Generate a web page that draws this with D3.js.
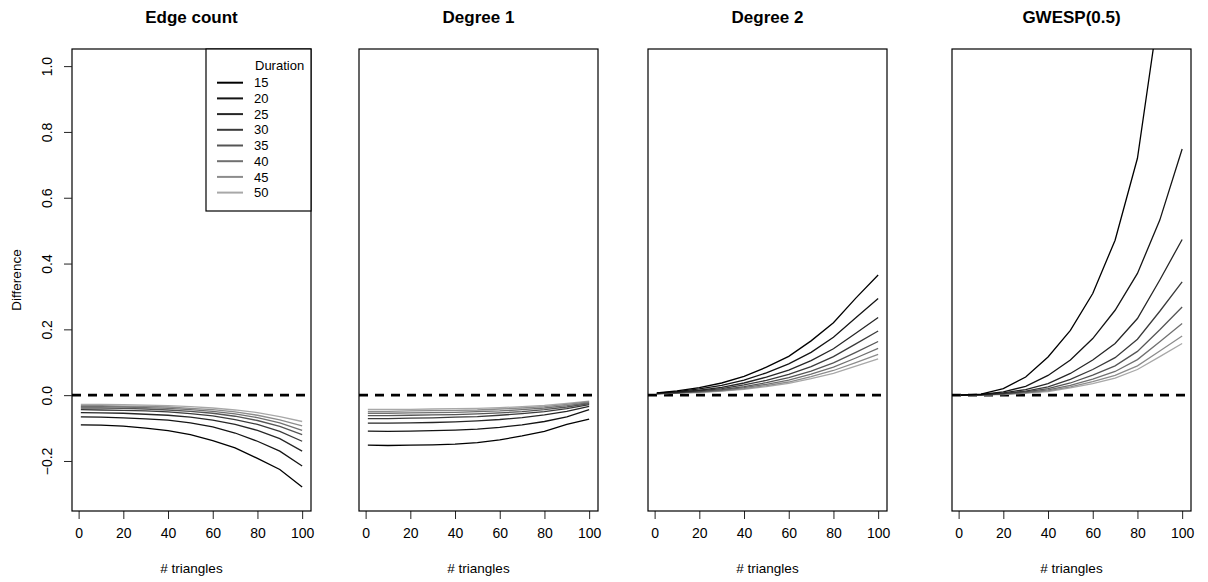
<!DOCTYPE html>
<html>
<head>
<meta charset="utf-8">
<script src="https://cdn.jsdelivr.net/npm/d3@7"></script>
<style>
body{margin:0;background:#fff;}
text{font-family:"Liberation Sans",Arial,Helvetica,sans-serif;fill:#000;}
</style>
</head>
<body>
<script>
// data
var triangles = [1,10,20,30,40,50,60,70,80,90,100];
var durations = [15,20,25,30,35,40,45,50];
var titles = ["Edge count","Degree 1","Degree 2","GWESP(0.5)"];
var xTicks = [0,20,40,60,80,100];
var yTicks = [-0.2,0,0.2,0.4,0.6,0.8,1.0];

var edgeCount = [
	[-0.090,-0.091,-0.094,-0.100,-0.108,-0.120,-0.138,-0.160,-0.192,-0.226,-0.279],
	[-0.066,-0.067,-0.069,-0.072,-0.076,-0.084,-0.096,-0.115,-0.140,-0.170,-0.215],
	[-0.053,-0.054,-0.055,-0.058,-0.061,-0.067,-0.076,-0.089,-0.107,-0.132,-0.170],
	[-0.044,-0.045,-0.046,-0.048,-0.051,-0.056,-0.063,-0.074,-0.089,-0.110,-0.140],
	[-0.039,-0.039,-0.040,-0.042,-0.045,-0.049,-0.055,-0.064,-0.077,-0.095,-0.120],
	[-0.035,-0.035,-0.036,-0.038,-0.040,-0.044,-0.049,-0.057,-0.068,-0.084,-0.107],
	[-0.032,-0.032,-0.033,-0.034,-0.036,-0.040,-0.044,-0.051,-0.061,-0.075,-0.093],
	[-0.028,-0.028,-0.029,-0.030,-0.032,-0.035,-0.039,-0.045,-0.053,-0.065,-0.080]
];
var degree1 = [
	[-0.152,-0.153,-0.152,-0.151,-0.149,-0.144,-0.136,-0.124,-0.110,-0.089,-0.073],
	[-0.109,-0.110,-0.109,-0.108,-0.106,-0.103,-0.098,-0.090,-0.080,-0.066,-0.044],
	[-0.085,-0.085,-0.084,-0.083,-0.081,-0.078,-0.074,-0.068,-0.060,-0.049,-0.034],
	[-0.071,-0.071,-0.070,-0.069,-0.067,-0.065,-0.061,-0.056,-0.050,-0.041,-0.029],
	[-0.062,-0.062,-0.061,-0.060,-0.059,-0.057,-0.054,-0.050,-0.044,-0.036,-0.026],
	[-0.055,-0.055,-0.054,-0.053,-0.052,-0.050,-0.048,-0.044,-0.039,-0.032,-0.023],
	[-0.049,-0.049,-0.048,-0.047,-0.046,-0.045,-0.042,-0.039,-0.035,-0.028,-0.020],
	[-0.043,-0.043,-0.043,-0.042,-0.041,-0.040,-0.038,-0.035,-0.031,-0.025,-0.018]
];
var degree2 = [
	[0.007,0.013,0.023,0.037,0.057,0.085,0.118,0.165,0.220,0.295,0.365],
	[0.006,0.011,0.019,0.030,0.046,0.068,0.095,0.130,0.176,0.235,0.294],
	[0.006,0.009,0.015,0.024,0.037,0.055,0.076,0.105,0.141,0.188,0.236],
	[0.005,0.008,0.013,0.020,0.031,0.045,0.063,0.087,0.117,0.156,0.195],
	[0.005,0.007,0.011,0.017,0.026,0.038,0.053,0.073,0.098,0.130,0.163],
	[0.005,0.007,0.010,0.015,0.023,0.033,0.046,0.064,0.085,0.113,0.142],
	[0.004,0.006,0.009,0.013,0.020,0.029,0.040,0.056,0.075,0.099,0.124],
	[0.004,0.006,0.008,0.012,0.018,0.026,0.036,0.050,0.066,0.088,0.110]
];
var gwesp = [
	[0.000,0.003,0.020,0.055,0.116,0.197,0.309,0.471,0.720,1.190,1.900],
	[0.000,0.002,0.010,0.027,0.060,0.107,0.172,0.258,0.370,0.532,0.748],
	[0.000,0.002,0.007,0.017,0.035,0.066,0.107,0.157,0.233,0.350,0.473],
	[0.000,0.001,0.005,0.012,0.025,0.048,0.078,0.114,0.170,0.255,0.344],
	[0.000,0.001,0.004,0.010,0.020,0.037,0.061,0.089,0.133,0.199,0.268],
	[0.000,0.001,0.003,0.008,0.016,0.030,0.049,0.072,0.108,0.162,0.218],
	[0.000,0.001,0.003,0.007,0.013,0.025,0.041,0.060,0.089,0.134,0.180],
	[0.000,0.001,0.002,0.006,0.011,0.022,0.035,0.052,0.078,0.117,0.157]
];
var panels = [edgeCount, degree1, degree2, gwesp];

var shades = ["#000000","#141414","#262626","#3a3a3a","#555555","#707070","#8c8c8c","#a8a8a8"];

var W = 1208, H = 582,
	plotTop = 49, plotBottom = 511,
	lefts = [72, 359, 648, 952], pw = 239;

var svg = d3.select("body").append("svg").attr("width", W).attr("height", H);

var y = d3.scaleLinear().domain([-0.352, 1.052]).range([plotBottom, plotTop]);
var color = d3.scaleOrdinal().domain(durations).range(shades);

panels.forEach(function(series, p) {
	var L = lefts[p];
	var x = d3.scaleLinear().domain([-2.96, 103.96]).range([L, L + pw]);
	var g = svg.append("g");

	g.append("clipPath").attr("id", "clip" + p)
		.append("rect").attr("x", L).attr("y", plotTop).attr("width", pw).attr("height", plotBottom - plotTop);

	var line = d3.line().x(function(d, i){ return x(triangles[i]); }).y(function(d){ return y(d); });

	var plot = g.append("g").attr("clip-path", "url(#clip" + p + ")");
	plot.append("line")
		.attr("x1", L).attr("x2", L + pw).attr("y1", y(0)).attr("y2", y(0))
		.attr("stroke", "#000").attr("stroke-width", 2.6).attr("stroke-dasharray", "9,7");
	// lightest first so the dark lines sit on top
	for (var k = series.length - 1; k >= 0; k--) {
		plot.append("path").datum(series[k])
			.attr("d", line).attr("fill", "none")
			.attr("stroke", color(durations[k])).attr("stroke-width", 1.3);
	}

	// x axis
	var xa = g.append("g").attr("transform", "translate(0," + plotBottom + ")")
		.call(d3.axisBottom(x).tickValues(xTicks).tickSize(8).tickPadding(9).tickFormat(d3.format("d")));
	xa.select(".domain").remove();
	xa.selectAll("line").attr("stroke", "#222");
	xa.selectAll("text").attr("font-size", 14).style("font-family", null);
	g.append("text").attr("x", L + pw / 2).attr("y", 573).attr("text-anchor", "middle")
		.attr("font-size", 13.5).text("# triangles");

	// title
	g.append("text").attr("x", L + pw / 2).attr("y", 23).attr("text-anchor", "middle")
		.attr("font-size", 17).attr("font-weight", "bold").text(titles[p]);

	g.append("rect").attr("x", L).attr("y", plotTop).attr("width", pw).attr("height", plotBottom - plotTop)
		.attr("fill", "none").attr("stroke", "#000").attr("stroke-width", 1.2);

	if (p == 0) {
		var ya = g.append("g").attr("transform", "translate(" + L + ",0)")
			.call(d3.axisLeft(y).tickValues(yTicks).tickSize(8).tickFormat(function(d){ return d3.format(".1f")(d).replace("-", "\u2212"); }));
		ya.select(".domain").remove();
		ya.selectAll("line").attr("stroke", "#222");
		ya.selectAll("text").attr("font-size", 14).style("font-family", null)
			.attr("transform", "translate(-20,0) rotate(-90)")
			.attr("x", 0).attr("y", 0).attr("dy", 0).attr("text-anchor", "middle");
		g.append("text").attr("transform", "translate(21," + ((plotTop + plotBottom) / 2) + ") rotate(-90)")
			.attr("text-anchor", "middle").attr("font-size", 13.5).text("Difference");

		// legend
		var lg = g.append("g");
		lg.append("rect").attr("x", L + pw - 105).attr("y", plotTop).attr("width", 105).attr("height", 162)
			.attr("fill", "#fff").attr("stroke", "#000").attr("stroke-width", 1.2);
		lg.append("text").attr("x", L + pw - 56).attr("y", 69.5).attr("font-size", 13).text("Duration");
		durations.forEach(function(dur, i) {
			var yy = 82.7 + i * 15.7;
			lg.append("line").attr("x1", L + pw - 94).attr("x2", L + pw - 68)
				.attr("y1", yy).attr("y2", yy).attr("stroke", color(dur)).attr("stroke-width", 2);
			lg.append("text").attr("x", L + pw - 57).attr("y", yy + 4.6).attr("font-size", 13).text(dur);
		});
	}
});
</script>
</body>
</html>
